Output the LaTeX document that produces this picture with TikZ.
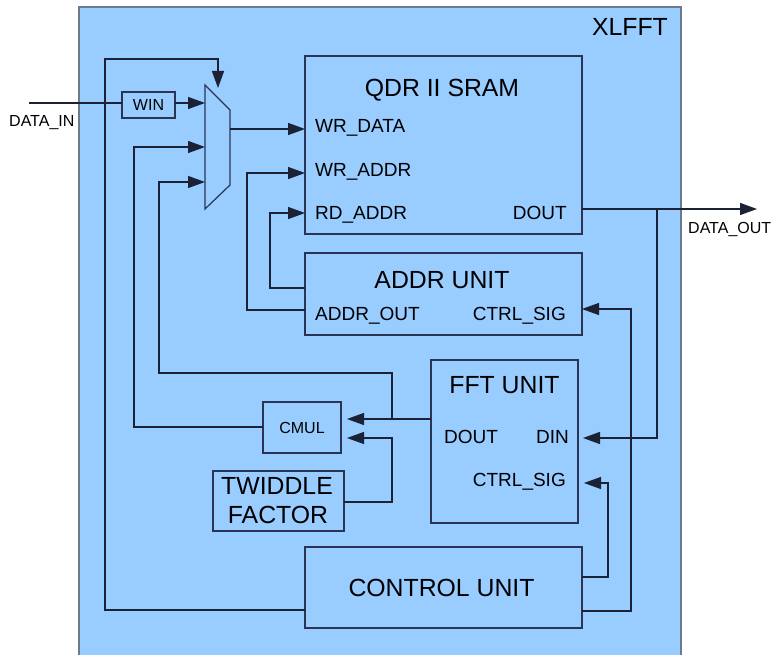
\documentclass[tikz,border=0pt]{standalone}
\usepackage{fontspec}
\setmainfont{Liberation Sans}
\usetikzlibrary{arrows.meta}
\definecolor{bgblue}{HTML}{99CCFF}
\definecolor{edgec}{HTML}{2A3554}
\definecolor{wirec}{HTML}{1C2236}
\definecolor{outerc}{HTML}{6E7A8A}
\begin{document}
\begin{tikzpicture}[x=1pt,y=-1pt,
  box/.style={draw=edgec, line width=1.2pt, inner sep=0pt, outer sep=0pt, anchor=north west},
  wire/.style={draw=wirec, line width=1.2pt},
  arr/.style={-{Triangle[length=17pt,width=12pt]}},
  ttl/.style={font=\fontsize{24.8}{28}\selectfont, inner sep=0pt, anchor=base},
  port/.style={font=\fontsize{19}{22}\selectfont, inner sep=0pt},
  small/.style={font=\fontsize{16}{19}\selectfont, inner sep=0pt}]
\useasboundingbox (0,0) rectangle (774,655);
% outer XLFFT block
\fill[bgblue] (79,7) rectangle (681,655);
\draw[outerc, line width=2pt] (79,655) -- (79,7) -- (681,7) -- (681,655);
\node[ttl, anchor=base east] (xl) at (668,36) {XLFFT};
% boxes
\node[box, minimum width=277pt, minimum height=178pt] (sram) at (305,56) {};
\node[box, minimum width=277pt, minimum height=82pt] (addr) at (305,253) {};
\node[box, minimum width=147pt, minimum height=163pt] (fft) at (431,360) {};
\node[box, minimum width=78pt, minimum height=51pt] (cmul) at (263,402) {};
\node[box, minimum width=131pt, minimum height=60pt] (tw) at (213,471) {};
\node[box, minimum width=277pt, minimum height=81pt] (ctrl) at (305,547) {};
\node[box, minimum width=53pt, minimum height=26pt] (win) at (122,92) {};
% texts
\node[ttl] (sramt) at (442,97) {QDR II SRAM};
\node[port, anchor=base west] (wrd) at (315,133) {WR\_DATA};
\node[port, anchor=base west] (wra) at (315,176.5) {WR\_ADDR};
\node[port, anchor=base west] (rda) at (315,220) {RD\_ADDR};
\node[port, anchor=base east] (sdout) at (567,220) {DOUT};
\node[ttl] (addrt) at (442,288) {ADDR UNIT};
\node[port, anchor=base west] (ao) at (315,320) {ADDR\_OUT};
\node[port, anchor=base east] (acs) at (566,320) {CTRL\_SIG};
\node[ttl] (fftt) at (504.5,393) {FFT UNIT};
\node[port, anchor=base west] (fdout) at (444,443) {DOUT};
\node[port, anchor=base east] (fdin) at (569,443) {DIN};
\node[port, anchor=base east] (fcs) at (566,486) {CTRL\_SIG};
\node[small, anchor=base] (cmult) at (302,433) {CMUL};
\node[ttl] (tw1) at (277,494) {TWIDDLE};
\node[ttl] (tw2) at (278,523) {FACTOR};
\node[ttl] (ctrlt) at (441.5,596) {CONTROL UNIT};
\node[small, anchor=base] (wint) at (148.5,110.5) {WIN};
\node[small, anchor=base west] (dinl) at (9,127) {DATA\_IN};
\node[small, anchor=base west] (doutl) at (688,234) {DATA\_OUT};
% multiplexer
\draw[draw=edgec, line width=1.2pt] (205,85) -- (230,110) -- (230,185) -- (205,209) -- cycle;
\coordinate (mux-sel) at (218,88);
\coordinate (mux-in1) at (205,103);
\coordinate (mux-in2) at (205,147);
\coordinate (mux-in3) at (205,182);
\coordinate (mux-out) at (230,129);
\coordinate (din-end) at (29,103);
\coordinate (dout-end) at (757,209);
\coordinate (split1) at (657,209);
\coordinate (split2) at (392,419);
% connectors
\draw[wire] (din-end) -- (win.west |- din-end);
\draw[wire,arr] (win.east |- mux-in1) -- (mux-in1);
\draw[wire,arr] (mux-out) -- (sram.west |- mux-out);
\draw[wire,arr] (addr.west |- 0,310) -- (247,310) -- (247,173) -- (sram.west |- 0,173);
\draw[wire,arr] (addr.west |- 0,288) -- (270,288) -- (270,213) -- (sram.west |- 0,213);
\draw[wire,arr] (sram.east |- dout-end) -- (dout-end);
\draw[wire,arr,shorten >=5pt] (split1) -- (657,438) -- (fft.east |- 0,438);
\draw[wire,arr,shorten >=6pt] (ctrl.east |- 0,577) -- (608,577) -- (608,483) -- (fft.east |- 0,483);
\draw[wire,arr] (ctrl.east |- 0,611) -- (631,611) -- (631,309) -- (addr.east |- 0,309);
\draw[wire,arr] (ctrl.west |- 0,610) -- (105,610) -- (105,59) -- (218,59) -- (mux-sel);
\draw[wire,arr,shorten >=6pt] (fft.west |- split2) -- (cmul.east |- split2);
\draw[wire,arr] (split2) -- (392,373) -- (159,373) -- (159,182) -- (mux-in3);
\draw[wire,arr,shorten >=6pt] (tw.east |- 0,502) -- (392,502) -- (392,438) -- (cmul.east |- 0,438);
\draw[wire,arr] (cmul.west |- 0,427) -- (134,427) -- (134,147) -- (mux-in2);
\end{tikzpicture}
\end{document}
